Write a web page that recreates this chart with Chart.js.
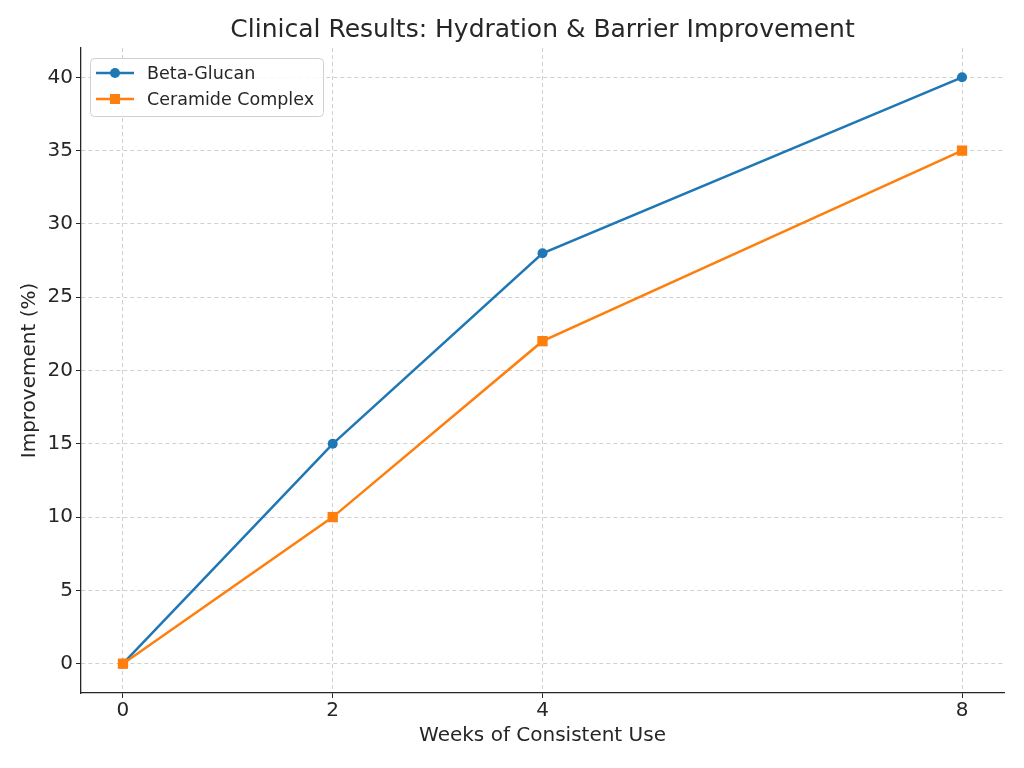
<!DOCTYPE html>
<html>
<head>
<meta charset="utf-8">
<script src="https://cdn.jsdelivr.net/npm/chart.js@4"></script>
<style>
  html, body { margin: 0; padding: 0; background: #fff; }
  #wrap { width: 1024px; height: 768px; }
</style>
</head>
<body>
<div id="wrap"><canvas id="myChart" width="1024" height="768"></canvas></div>
<script>
// data
var weeks = [0, 2, 4, 8];
var betaGlucan = [0, 15, 28, 40];
var ceramide = [0, 10, 22, 35];
var xTicks = [0, 2, 4, 8];
var yTicks = [0, 5, 10, 15, 20, 25, 30, 35, 40];
var chartTitle = "Clinical Results: Hydration & Barrier Improvement";

var textColor = "#262626";
var fontName = "'DejaVu Sans', sans-serif";

var toPoints = function(xs, ys) {
    return xs.map(function(x, i) { return { x: x, y: ys[i] }; });
};

// title centred over the plot area, like matplotlib
var axesTitle = {
    id: "axesTitle",
    afterDraw: function(chart) {
        var ctx = chart.ctx;
        var area = chart.chartArea;
        ctx.save();
        ctx.fillStyle = textColor;
        ctx.font = "25px " + fontName;
        ctx.textAlign = "center";
        ctx.textBaseline = "middle";
        ctx.fillText(chartTitle, (area.left + area.right) / 2, 30);
        ctx.restore();
    }
};

// legend drawn inside the plot, upper left
var boxLegend = {
    id: "boxLegend",
    afterDraw: function(chart) {
        var ctx = chart.ctx;
        var area = chart.chartArea;
        var x0 = area.left + 9, y0 = area.top + 10;
        var w = 233, h = 58;
        ctx.save();
        ctx.fillStyle = "rgba(255,255,255,0.85)";
        ctx.strokeStyle = "#d0d0d0";
        ctx.lineWidth = 1;
        ctx.beginPath();
        ctx.roundRect(x0 + 0.5, y0 + 0.5, w, h, 4);
        ctx.fill();
        ctx.stroke();
        var order = [0, 1];
        order.forEach(function(di, row) {
            var ds = chart.data.datasets[di];
            var cy = y0 + 15 + row * 26;
            ctx.strokeStyle = ds.borderColor;
            ctx.lineWidth = 2.5;
            ctx.beginPath();
            ctx.moveTo(x0 + 6, cy);
            ctx.lineTo(x0 + 44, cy);
            ctx.stroke();
            ctx.fillStyle = ds.borderColor;
            if (ds.pointStyle === "rect") {
                ctx.fillRect(x0 + 25 - 5, cy - 5, 10, 10);
            } else {
                ctx.beginPath();
                ctx.arc(x0 + 25, cy, 5, 0, Math.PI * 2);
                ctx.fill();
            }
            ctx.fillStyle = textColor;
            ctx.font = "17.5px " + fontName;
            ctx.textBaseline = "middle";
            ctx.textAlign = "left";
            ctx.fillText(ds.label, x0 + 57, cy + 1);
        });
        ctx.restore();
    }
};

var myChart = document.getElementById("myChart").getContext("2d");

var resultsChart = new Chart(myChart, {
    type: "line",
    data: {
        datasets: [{
            label: "Beta-Glucan",
            data: toPoints(weeks, betaGlucan),
            borderColor: "#1f77b4",
            backgroundColor: "#1f77b4",
            borderWidth: 2.5,
            pointStyle: "circle",
            pointRadius: 5,
            pointBorderWidth: 0,
            order: 1
        }, {
            label: "Ceramide Complex",
            data: toPoints(weeks, ceramide),
            borderColor: "#ff7f0e",
            backgroundColor: "#ff7f0e",
            borderWidth: 2.5,
            pointStyle: "rect",
            pointRadius: 7.3,
            pointBorderWidth: 0,
            order: 0
        }]
    },
    options: {
        responsive: false,
        animation: false,
        layout: {
            padding: { left: 0, right: 20, top: 48, bottom: 0 }
        },
        plugins: {
            legend: { display: false },
            tooltip: { enabled: false },
            title: { display: false }
        },
        scales: {
            x: {
                type: "linear",
                min: -0.4,
                max: 8.4,
                afterBuildTicks: function(scale) {
                    scale.ticks = xTicks.map(function(v) { return { value: v }; });
                },
                afterFit: function(scale) { scale.height = 75; },
                grid: {
                    color: "#d0d0d0",
                    lineWidth: 1,
                    tickColor: "#262626",
                    tickLength: 5,
                    tickBorderDash: []
                },
                border: { display: true, color: "#262626", width: 1.3, dash: [4, 3] },
                ticks: {
                    color: textColor,
                    font: { family: fontName, size: 20 },
                    padding: 1,
                    maxRotation: 0
                },
                title: {
                    display: true,
                    text: "Weeks of Consistent Use",
                    color: textColor,
                    font: { family: fontName, size: 20 },
                    padding: { top: 0, bottom: 20 }
                }
            },
            y: {
                type: "linear",
                min: -2,
                max: 42,
                afterBuildTicks: function(scale) {
                    scale.ticks = yTicks.map(function(v) { return { value: v }; });
                },
                afterFit: function(scale) { scale.width = 81; },
                grid: {
                    color: "#d0d0d0",
                    lineWidth: 1,
                    tickColor: "#262626",
                    tickLength: 5,
                    tickBorderDash: []
                },
                border: { display: true, color: "#262626", width: 1.3, dash: [4, 3] },
                ticks: {
                    color: textColor,
                    font: { family: fontName, size: 20 },
                    padding: 3
                },
                title: {
                    display: true,
                    text: "Improvement (%)",
                    color: textColor,
                    font: { family: fontName, size: 20 },
                    padding: { top: 18, bottom: 0 }
                }
            }
        }
    },
    plugins: [axesTitle, boxLegend]
});
</script>
</body>
</html>
